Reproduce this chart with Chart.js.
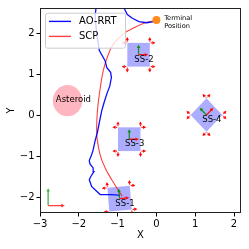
<!DOCTYPE html>
<html><head><meta charset="utf-8">
<script src="https://cdn.jsdelivr.net/npm/chart.js@4"></script>
<style>html,body{margin:0;padding:0;background:#fff}</style>
</head><body>
<canvas id="c" width="249" height="249" style="width:249px;height:249px;display:block"></canvas>
<script>
// ---- data ----
const xTicks = [-3, -2, -1, 0, 1, 2];
const yTicks = [-2, -1, 0, 1, 2];

const rrtX = [-0.94, -1.05, -1.20, -1.45, -1.54, -1.67, -1.73, -1.69, -1.61, -1.63, -1.71, -1.73, -1.67, -1.63, -1.58, -1.52, -1.47, -1.41, -1.35, -1.28, -1.20, -1.16, -1.18, -1.28, -1.32, -1.47, -1.54, -1.58, -1.55, -1.35, -1.05, -0.84, -0.75, -0.62, -0.45, -0.25, -0.08, 0.00];
const rrtY = [-1.96, -1.95, -1.94, -1.94, -1.86, -1.74, -1.58, -1.50, -1.38, -1.29, -1.20, -1.11, -0.97, -0.85, -0.63, -0.42, -0.18, 0.10, 0.30, 0.51, 0.71, 0.92, 1.04, 1.16, 1.32, 1.57, 1.98, 2.42, 2.66, 2.80, 2.75, 2.62, 2.45, 2.36, 2.28, 2.25, 2.28, 2.32];

const scpX = [-0.88, -0.94, -1.15, -1.32, -1.45, -1.53, -1.54, -1.52, -1.47, -1.37, -1.25, -1.11, -0.85, -0.55, -0.25, -0.03];
const scpY = [-1.98, -1.90, -1.58, -1.29, -0.97, -0.56, -0.30, 0.10, 0.51, 1.08, 1.45, 1.73, 1.98, 2.14, 2.26, 2.30];

const terminalX = [0];
const terminalY = [2.32];

const ssNames = ['SS-1', 'SS-2', 'SS-3', 'SS-4'];
const ssX = [-0.95, -0.46, -0.70, 1.29];
const ssY = [-2.04, 1.47, -0.59, 0.0];
const ssAngle = [5, 0, 0, 45];

const asteroidX = [-2.29];
const asteroidY = [0.35];
const asteroidR = [0.38];

const frameX = [-2.79];
const frameY = [-2.21];

// ---- helpers ----
const FONT = "'DejaVu Sans', sans-serif";
const SIDE = 0.58, H = SIDE / 2, THR = 0.1, AX = 0.25;

function rot(x, y, deg) {
  const a = deg * Math.PI / 180;
  return [x * Math.cos(a) - y * Math.sin(a), x * Math.sin(a) + y * Math.cos(a)];
}

function arrowHead(ctx, tx, ty, ux, uy, len, hw) {
  const bx = tx - ux * len, by = ty - uy * len;
  ctx.beginPath();
  ctx.moveTo(tx, ty);
  ctx.lineTo(bx - uy * hw, by + ux * hw);
  ctx.lineTo(bx + uy * hw, by - ux * hw);
  ctx.closePath();
  ctx.fill();
}

function drawArrow(ctx, x0, y0, x1, y1, color, lw) {
  const dx = x1 - x0, dy = y1 - y0, L = Math.hypot(dx, dy);
  const ux = dx / L, uy = dy / L;
  ctx.strokeStyle = color; ctx.fillStyle = color; ctx.lineWidth = lw;
  ctx.beginPath(); ctx.moveTo(x0, y0); ctx.lineTo(x1 - ux * 2, y1 - uy * 2); ctx.stroke();
  arrowHead(ctx, x1, y1, ux, uy, 3.5, 1.8);
}

const scenePlugin = {
  id: 'scene',
  beforeDatasetsDraw(chart) {
    const {ctx, chartArea: ca, scales: {x: xs, y: ys}} = chart;
    const P = (x, y) => [xs.getPixelForValue(x), ys.getPixelForValue(y)];
    ctx.save();
    ctx.beginPath(); ctx.rect(ca.left, ca.top, ca.right - ca.left, ca.bottom - ca.top); ctx.clip();
    // asteroid
    for (let i = 0; i < asteroidX.length; i++) {
      const [cx, cy] = P(asteroidX[i], asteroidY[i]);
      const rx = Math.abs(xs.getPixelForValue(asteroidX[i] + asteroidR[i]) - cx);
      const ry = Math.abs(ys.getPixelForValue(asteroidY[i] + asteroidR[i]) - cy);
      ctx.fillStyle = '#ffb6c1';
      ctx.beginPath(); ctx.ellipse(cx, cy, rx, ry, 0, 0, Math.PI * 2); ctx.fill();
    }
    // spacecraft boxes
    for (let i = 0; i < ssNames.length; i++) {
      const corners = [[-H, -H], [H, -H], [H, H], [-H, H]];
      ctx.fillStyle = 'rgba(0,0,255,0.32)';
      ctx.beginPath();
      corners.forEach((c, k) => {
        const [rx, ry] = rot(c[0], c[1], ssAngle[i]);
        const [px, py] = P(ssX[i] + rx, ssY[i] + ry);
        if (k === 0) ctx.moveTo(px, py); else ctx.lineTo(px, py);
      });
      ctx.closePath(); ctx.fill();
    }
    ctx.restore();
  },
  afterDatasetsDraw(chart) {
    const {ctx, chartArea: ca, scales: {x: xs, y: ys}} = chart;
    const P = (x, y) => [xs.getPixelForValue(x), ys.getPixelForValue(y)];
    ctx.save();
    ctx.beginPath(); ctx.rect(ca.left, ca.top, ca.right - ca.left, ca.bottom - ca.top); ctx.clip();
    // thrusters, body frames, labels
    const thr = [
      [-H - THR, H, -1, 0], [-H, H + THR, 0, 1], [H, H + THR, 0, 1], [H + THR, H, 1, 0],
      [-H - THR, -H, -1, 0], [-H, -H - THR, 0, -1], [H, -H - THR, 0, -1], [H + THR, -H, 1, 0]
    ];
    for (let i = 0; i < ssNames.length; i++) {
      const a = ssAngle[i];
      thr.forEach(t => {
        const [ox, oy] = rot(t[0], t[1], a);
        const [dx, dy] = rot(t[2], t[3], a);
        const [px, py] = P(ssX[i] + ox, ssY[i] + oy);
        const [qx, qy] = P(ssX[i] + ox + dx * 0.1, ssY[i] + oy + dy * 0.1);
        const L = Math.hypot(qx - px, qy - py), ux = (qx - px) / L, uy = (qy - py) / L;
        ctx.fillStyle = '#ff0000'; ctx.strokeStyle = '#ff0000'; ctx.lineWidth = 1;
        arrowHead(ctx, px + ux * 1.8, py + uy * 1.8, ux, uy, 3.2, 1.7);
        ctx.beginPath(); ctx.moveTo(px - ux * 1.4, py - uy * 1.4); ctx.lineTo(px - ux * 3, py - uy * 3); ctx.stroke();
      });
      const [o0, o1] = P(ssX[i], ssY[i]);
      const [xa, xb] = rot(AX, 0, a), [ya, yb] = rot(0, AX, a);
      const [gx, gy] = P(ssX[i] + ya, ssY[i] + yb);
      const [rx, ry] = P(ssX[i] + xa, ssY[i] + xb);
      drawArrow(ctx, o0, o1, gx, gy, 'rgba(0,140,0,0.85)', 1.3);
      drawArrow(ctx, o0, o1, rx, ry, 'rgba(255,0,0,0.9)', 1.3);
      const [tx, ty] = P(ssX[i] + 0.14, ssY[i] - 0.12);
      ctx.fillStyle = '#000'; ctx.font = '8.5px ' + FONT;
      ctx.textAlign = 'center'; ctx.textBaseline = 'middle';
      ctx.fillText(ssNames[i], tx, ty);
    }
    // asteroid label
    {
      const [tx, ty] = P(asteroidX[0] + 0.15, asteroidY[0] + 0.03);
      ctx.fillStyle = '#000'; ctx.font = '8.5px ' + FONT;
      ctx.textAlign = 'center'; ctx.textBaseline = 'middle';
      ctx.fillText('Asteroid', tx, ty);
    }
    // terminal label
    {
      const [tx, ty] = P(terminalX[0] + 0.2, terminalY[0] + 0.05);
      const [tx2, ty2] = P(terminalX[0] + 0.2, terminalY[0] - 0.15);
      ctx.fillStyle = '#000'; ctx.font = '6.6px ' + FONT;
      ctx.textAlign = 'left'; ctx.textBaseline = 'middle';
      ctx.fillText('Terminal', tx, ty);
      ctx.fillText('Position', tx2, ty2);
    }
    // reference frame
    {
      const [ox, oy] = P(frameX[0], frameY[0]);
      const [gx, gy] = P(frameX[0], frameY[0] + 0.43);
      const [rx, ry] = P(frameX[0] + 0.43, frameY[0]);
      drawArrow(ctx, ox, oy, gx, gy, 'rgba(0,150,0,0.6)', 1.6);
      drawArrow(ctx, ox, oy, rx, ry, 'rgba(255,0,0,0.75)', 1.3);
    }
    ctx.restore();
    // legend
    ctx.save();
    const lx = ca.left + 5, ly = ca.top + 4.7, lw = 80, lh = 35;
    ctx.fillStyle = 'rgba(255,255,255,0.8)';
    ctx.strokeStyle = '#cccccc'; ctx.lineWidth = 1;
    ctx.beginPath();
    if (ctx.roundRect) ctx.roundRect(lx + 0.5, ly + 0.5, lw, lh, 2); else ctx.rect(lx + 0.5, ly + 0.5, lw, lh);
    ctx.fill(); ctx.stroke();
    chart.data.datasets.filter(d => d.inLegend).forEach((d, k) => {
      const yy = ly + 8.7 + k * 15;
      ctx.strokeStyle = d.borderColor; ctx.lineWidth = 1.4;
      ctx.beginPath(); ctx.moveTo(lx + 4, yy); ctx.lineTo(lx + 26, yy); ctx.stroke();
      ctx.fillStyle = '#000'; ctx.font = '10px ' + FONT;
      ctx.textAlign = 'left'; ctx.textBaseline = 'middle';
      ctx.fillText(d.label, lx + 34, yy + 0.5);
    });
    // frame border
    ctx.strokeStyle = '#222'; ctx.lineWidth = 1;
    ctx.strokeRect(Math.round(ca.left) + 0.5, Math.round(ca.top) + 0.5, Math.round(ca.right - ca.left) - 1, Math.round(ca.bottom - ca.top) - 1);
    ctx.restore();
  }
};

const toXY = (xa, ya) => xa.map((v, i) => ({x: v, y: ya[i]}));
const minus = v => (v < 0 ? '\u2212' + Math.abs(v) : String(v));

new Chart(document.getElementById('c'), {
  type: 'scatter',
  data: {
    datasets: [
      {label: 'Terminal Position', data: toXY(terminalX, terminalY), pointRadius: 4, pointBackgroundColor: '#ff8c1a', pointBorderWidth: 0, order: 0},
      {label: 'AO-RRT', inLegend: true, data: toXY(rrtX, rrtY), showLine: true, borderColor: 'rgba(0,0,255,0.95)', borderWidth: 1.3, pointRadius: 0, tension: 0, clip: 0, order: 1},
      {label: 'SCP', inLegend: true, data: toXY(scpX, scpY), showLine: true, borderColor: 'rgba(255,0,0,0.75)', borderWidth: 1.1, pointRadius: 0, tension: 0.4, clip: 0, order: 2}
    ]
  },
  options: {
    responsive: false, animation: false, devicePixelRatio: 1,
    layout: {padding: {top: 7, right: 8, left: 0, bottom: 0}},
    plugins: {legend: {display: false}, tooltip: {enabled: false}},
    scales: {
      x: {
        type: 'linear', min: -3, max: 2.18,
        afterBuildTicks: s => { s.ticks = xTicks.map(v => ({value: v})); },
        afterFit: s => { s.height = 36; },
        grid: {drawOnChartArea: false, drawTicks: true, tickLength: 3.5, color: '#000'},
        border: {display: false},
        ticks: {color: '#000', font: {family: FONT, size: 10}, padding: 1.5, callback: minus, maxRotation: 0},
        title: {display: true, text: 'X', color: '#000', font: {family: FONT, size: 10}, padding: {top: 0, bottom: 8}}
      },
      y: {
        type: 'linear', min: -2.39, max: 2.61,
        afterBuildTicks: s => { s.ticks = yTicks.map(v => ({value: v})); },
        afterFit: s => { s.width = 40; },
        grid: {drawOnChartArea: false, drawTicks: true, tickLength: 3.5, color: '#000'},
        border: {display: false},
        ticks: {color: '#000', font: {family: FONT, size: 10}, padding: 2, callback: minus},
        title: {display: true, text: 'Y', color: '#000', font: {family: FONT, size: 10}, padding: {top: 5, bottom: 0}}
      }
    }
  },
  plugins: [scenePlugin]
});
</script>
</body></html>
